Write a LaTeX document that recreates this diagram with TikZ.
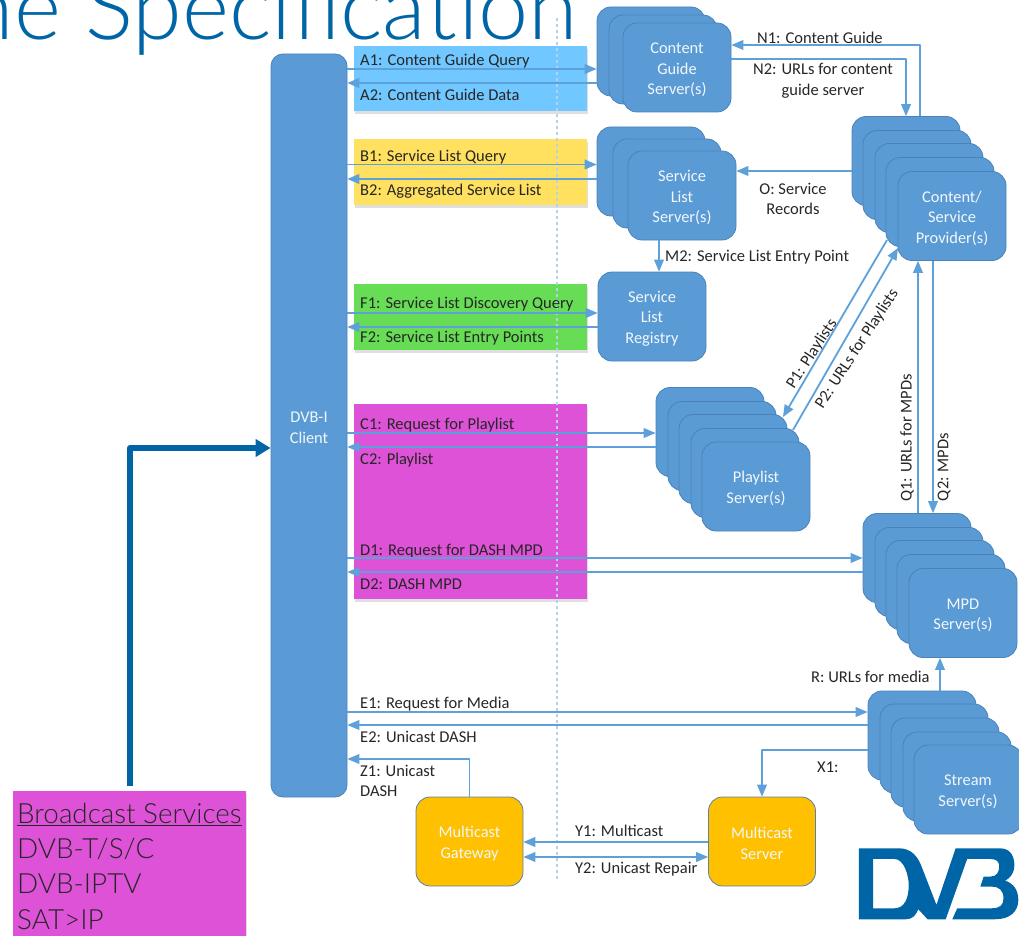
\documentclass[tikz,border=0pt]{standalone}
\usepackage{fontspec}
\setmainfont{Carlito}
\newfontfamily\titlefont{Lato Light}
\usetikzlibrary{arrows,arrows.meta,shadows}
\definecolor{srvblue}{HTML}{5B9BD5}
\definecolor{srvedge}{HTML}{4A82B8}
\definecolor{linkblue}{HTML}{5EA0DA}
\definecolor{dvbblue}{HTML}{0065A6}
\definecolor{cgcol}{HTML}{71C7FF}
\definecolor{slcol}{HTML}{FFE15F}
\definecolor{regcol}{HTML}{66DD55}
\definecolor{mediacol}{HTML}{DD52D7}
\definecolor{mcastcol}{HTML}{FFC000}
\newcommand{\srvtop}{\rule{0pt}{15.5pt}}
\tikzset{
  srv/.style={rectangle,rounded corners=14pt,draw=srvedge,line width=0.8pt,fill=srvblue,
    minimum width=108pt,minimum height=89pt,inner sep=0pt,text=white!92!srvblue,align=center,
    font=\fontsize{16.4}{20.5}\selectfont},
  mcast/.style={srv,fill=mcastcol,draw=srvedge!70!gray,minimum width=107pt},
  band/.style={rectangle,minimum width=233pt,inner sep=0pt,
    drop shadow={shadow xshift=1pt,shadow yshift=-3pt,opacity=.25}},
  lbl/.style={inner sep=0pt,text=black!85,align=left,yshift=-1pt,font=\fontsize{16.5}{20.5}\selectfont},
  link/.style={draw=linkblue,line width=1.8pt},
}
\begin{document}
\begin{tikzpicture}[line cap=butt,line join=round,>=triangle 45,x=1pt,y=-1pt]
\clip (0,0) rectangle (1019,936);
% heading left over from the slide
\node[anchor=base east,inner sep=0pt,text=dvbblue,font=\fontsize{90}{90}\selectfont\titlefont] (heading) at (578,40) {ne Specification};
% coloured bands
\node[band,fill=cgcol,minimum height=65pt] (bandA) at (470.5,78.5) {};
\node[band,fill=slcol,minimum height=66pt] (bandB) at (470.5,172) {};
\node[band,fill=regcol,minimum height=66pt] (bandF) at (470.5,317) {};
\node[band,fill=mediacol,minimum height=195pt] (bandC) at (470.5,501.5) {};
\node[band,fill=mediacol,minimum height=150pt] (bandZ) at (129.5,866) {};
% boundary
\coordinate (dotTop) at (557,18);
\coordinate (dotBot) at (557,880);
\draw[srvblue!45,line width=1.2pt,dash pattern=on 3pt off 3pt] (dotTop) -- (dotBot);
% server stacks
\foreach \nm/\cx/\cy in {cg1/651/51.5,cg2/663/59.5,
  sl1/651/171.5,sl2/667/183.5,
  cp1/906/161,cp2/917/175,cp3/929/188,cp4/940/202,
  pl1/710/432,pl2/722/446,pl3/733/459,pl4/745/473,
  mpd1/917/558,mpd2/929/572,mpd3/940/585,mpd4/951/599,
  st1/922/735.5,st2/934/748.5,st3/945/762.5,st4/957/776.5}
  \node[srv] (\nm) at (\cx,\cy) {};
\node[srv] (cg) at (677,67.5) {\srvtop Content\\Guide\\Server(s)};
\node[srv] (sl) at (682,195.5) {\srvtop Service\\List\\Server(s)};
\node[srv] (reg) at (652,316.5) {\srvtop Service\\List\\Registry};
\node[srv] (cp) at (952,216) {\srvtop Content/\\Service\\Provider(s)};
\node[srv] (pl) at (756,486.5) {\srvtop Playlist\\Server(s)};
\node[srv] (mpd) at (963,613) {\srvtop MPD\\Server(s)};
\node[srv] (st) at (968,789.5) {\srvtop Stream\\Server(s)};
\node[srv,rounded corners=12pt,minimum width=76pt,minimum height=743pt] (client) at (309,425.5) {\srvtop DVB-I\\Client};
\node[mcast] (gw) at (469.5,841.5) {\srvtop Multicast\\Gateway};
\node[mcast] (ms) at (762,841.5) {\srvtop Multicast\\Server};
% labels
\node[lbl,anchor=west] (a1) at (360,60) {A1: Content Guide Query};
\node[lbl,anchor=west] (a2) at (360,94) {A2: Content Guide Data};
\node[lbl,anchor=west] (b1) at (360,156) {B1: Service List Query};
\node[lbl,anchor=west] (b2) at (360,190) {B2: Aggregated Service List};
\node[lbl,anchor=west] (f1) at (360,303) {F1: Service List Discovery Query};
\node[lbl,anchor=west] (f2) at (360,337) {F2: Service List Entry Points};
\node[lbl,anchor=west] (c1) at (360,424) {C1: Request for Playlist};
\node[lbl,anchor=west] (c2) at (360,459) {C2: Playlist};
\node[lbl,anchor=west] (d1) at (360,550) {D1: Request for DASH MPD};
\node[lbl,anchor=west] (d2) at (360,583) {D2: DASH MPD};
\node[lbl,anchor=west] (e1) at (360,703) {E1: Request for Media};
\node[lbl,anchor=west] (e2) at (360,736) {E2: Unicast DASH};
\node[lbl,anchor=west] (z1) at (360,780) {Z1: Unicast\\DASH};
\node[lbl,anchor=west] (n1) at (757,37) {N1: Content Guide};
\node[lbl,align=center] (n2) at (823,80) {N2: URLs for content\\guide server};
\node[lbl,align=center] (rec) at (793,198) {O: Service\\Records};
\node[lbl,anchor=west] (m2) at (665,256) {M2: Service List Entry Point};
\node[lbl,anchor=west] (r) at (811,676) {R: URLs for media};
\node[lbl,anchor=west] (x1) at (817,766) {X1:};
\node[lbl,anchor=west] (y1) at (575,830) {Y1: Multicast};
\node[lbl,anchor=west] (y2) at (575,868) {Y2: Unicast Repair};
\node[lbl,rotate=57] (p1) at (812,353) {P1: Playlists};
\node[lbl,rotate=57] (p2) at (857,348) {P2: URLs for Playlists};
\node[lbl,rotate=90] (q1) at (907,437) {Q1: URLs for MPDs};
\node[lbl,rotate=90] (q2) at (944,466) {Q2: MPDs};
% connectors
\draw[link,->] (client.east |- 0,69) -- (cg1.west |- 0,69);
\draw[link,->] (cg1.west |- 0,83) -- (client.east |- 0,83);
\draw[link,->] (client.east |- 0,164.5) -- (sl1.west |- 0,164.5);
\draw[link,->] (sl1.west |- 0,179) -- (client.east |- 0,179);
\draw[link,->] (client.east |- 0,313) -- (reg.west |- 0,313);
\draw[link,->] (reg.west |- 0,327) -- (client.east |- 0,327);
\draw[link,->] (client.east |- 0,433) -- (pl1.west |- 0,433);
\draw[link,->] (pl1.west |- 0,447) -- (client.east |- 0,447);
\draw[link,->] (client.east |- 0,558) -- (mpd1.west |- 0,558);
\draw[link,->] (mpd1.west |- 0,572) -- (client.east |- 0,572);
\draw[link,->] (client.east |- 0,712) -- (st1.west |- 0,712);
\draw[link,->] (st1.west |- 0,725) -- (client.east |- 0,725);
\draw[link,->] (gw.north |- 0,797) |- (client.east |- 0,759);
\draw[link,->] (st1.west |- 0,750) -| (ms.north);
\draw[link,->] (ms.west |- 0,842) -- (gw.east |- 0,842);
\draw[link,<->] (gw.east |- 0,857) -- (ms.west |- 0,857);
\draw[link,->] (st1.north -| 940,0) -- (mpd.south -| 940,0);
\draw[link,->] (cp1.north -| 920,0) |- (cg.east |- 0,45);
\draw[link,->] (cg.east |- 0,59) -| (cp1.north -| 906,0);
\draw[link,->] (cp1.west |- 0,171) -- (sl.east |- 0,171);
\draw[link,->] (sl.south -| 659,0) -- (reg.north -| 659,0);
\coordinate (p1a) at (887,240);
\coordinate (p1b) at (783,417);
\coordinate (p2a) at (793,430);
\coordinate (p2b) at (898,248);
\draw[link,->] (p1a) -- (p1b);
\draw[link,->] (p2a) -- (p2b);
\draw[link,->] (mpd1.north -| 918,0) -- (cp.south -| 918,0);
\draw[link,->] (cp.south -| 933,0) -- (mpd1.north -| 933,0);
% broadcast input
\node[inner sep=0pt,anchor=north west,align=left,text=black!85,font=\fontsize{27.8}{35.2}\selectfont\titlefont] (bcast) at (17,803) {\underline{Broadcast Services}\\DVB-T/S/C\\DVB-IPTV\\SAT>IP};
\coordinate (bcastTop) at (130,786);
\draw[dvbblue,line width=6pt,-{Triangle[length=15pt,width=17pt]}] (bcastTop) |- (client.west |- 0,448);
% logo
\begin{scope}[shift={(850,840)},x=0.33pt,y=-0.333pt]
\fill[dvbblue,even odd rule] (27,25) -- (150,25) .. controls (185,25) and (205,50) .. (215,75) -- (262,195) -- (320,25) -- (455,25)
  .. controls (490,25) and (498,55) .. (498,75) .. controls (498,100) and (485,115) .. (470,122)
  .. controls (495,130) and (510,150) .. (510,180) .. controls (510,215) and (485,238) .. (440,238)
  -- (310,238) -- (325,205) -- (430,205) .. controls (455,205) and (465,195) .. (465,175)
  .. controls (465,150) and (450,140) .. (430,140) -- (395,140) -- (405,110) -- (425,110)
  .. controls (445,110) and (452,95) .. (452,80) .. controls (452,65) and (445,57) .. (425,57)
  -- (355,57) -- (290,238) -- (235,238) -- (207,208) .. controls (200,225) and (190,238) .. (170,238)
  -- (27,238) -- cycle
  (70,57) -- (135,57) .. controls (165,57) and (178,110) .. (178,135) .. controls (178,175) and (165,205) .. (135,205) -- (70,205) -- cycle;
\end{scope}
\end{tikzpicture}
\end{document}
